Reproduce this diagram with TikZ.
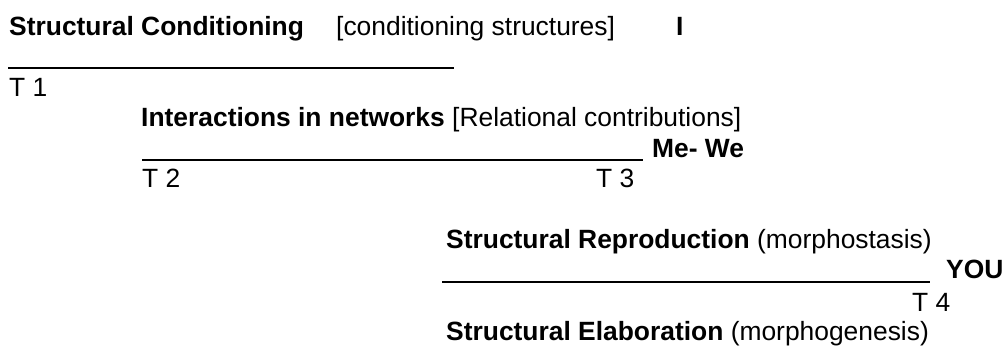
\documentclass[tikz,border=0pt]{standalone}
\usepackage{fontspec}
\setmainfont{Liberation Sans}
\begin{document}
\begin{tikzpicture}[x=1pt,y=-1pt,
  txt/.style={anchor=base west,inner sep=0pt,font=\fontsize{26.4}{30.5}\selectfont},
  rule/.style={line width=1.9pt}]
% page and margins
\fill[white] (0,0) rectangle (1008,351);
\useasboundingbox (0,0) rectangle (1008,351);
% level 1: structural conditioning
\node[txt] (sc) at (9,35.3) {\textbf{Structural Conditioning}};
\node[txt] (cs) at (336,35.3) {[conditioning structures]};
\node[txt] (i) at (676,35.3) {\textbf{I}};
\draw[rule] (8,68.4) -- (454,68.4);
\node[txt] (t1) at (9,96.3) {T 1};
% level 2: interactions
\node[txt] (in) at (141,126.8) {\textbf{Interactions in networks} [Relational contributions]};
\draw[rule] (142,160) -- (643,160);
\node[txt] (mewe) at (652,157.3) {\textbf{Me- We}};
\node[txt] (t2) at (142,187.8) {T 2};
\node[txt] (t3) at (596,187.8) {T 3};
% level 3: reproduction / elaboration
\node[txt] (sr) at (446,248.8) {\textbf{Structural Reproduction} (morphostasis)};
\draw[rule] (442,282.4) -- (930,282.4);
\node[txt] (you) at (946,278.8) {\textbf{YOU}};
\node[txt] (t4) at (912,311) {T 4};
\node[txt] (se) at (446,340.3) {\textbf{Structural Elaboration} (morphogenesis)};
\end{tikzpicture}
\end{document}
